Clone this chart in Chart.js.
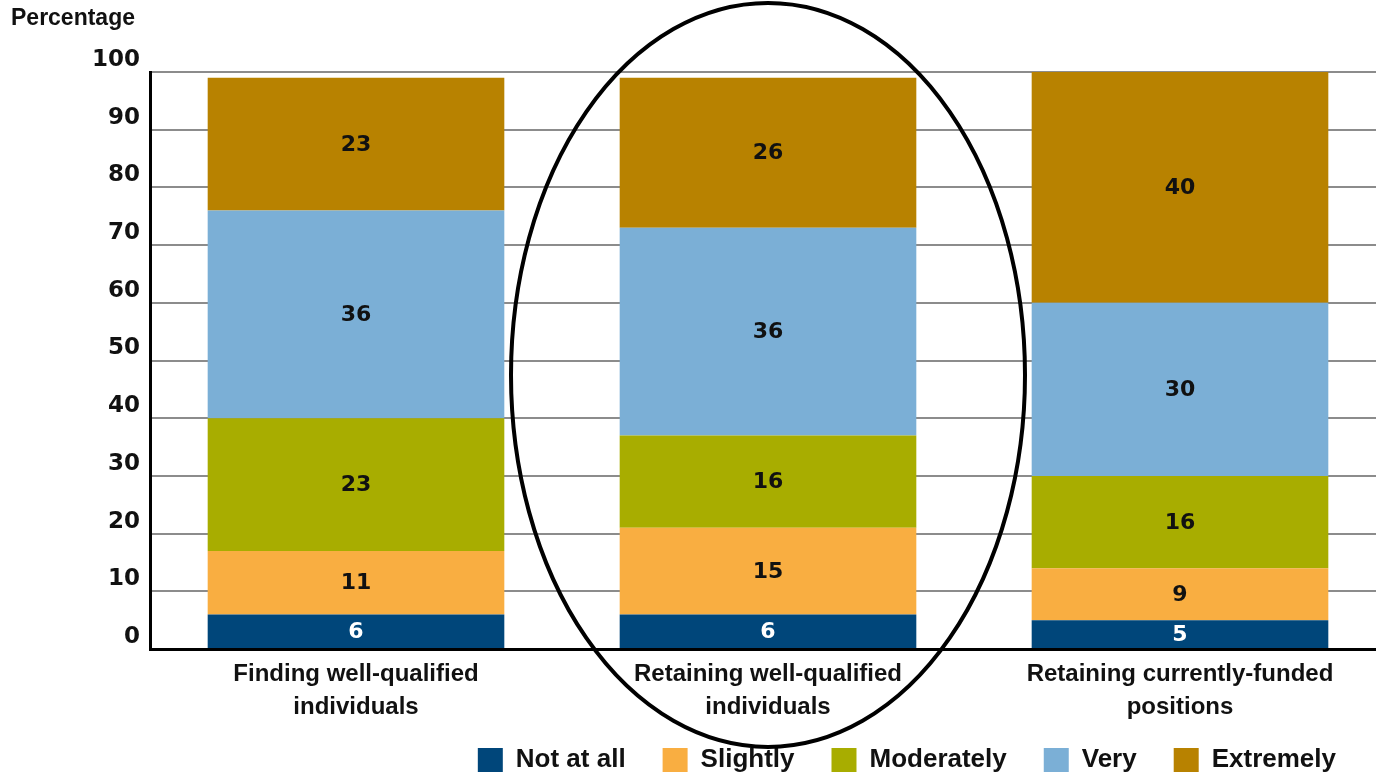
<!DOCTYPE html>
<html><head><meta charset="utf-8">
<script src="https://cdn.jsdelivr.net/npm/chart.js@4.4.1/dist/chart.umd.min.js"></script>
<style>
html,body{margin:0;padding:0;background:#fff;overflow:hidden;width:1376px;height:775px}
#wrap{position:absolute;left:0;top:0;width:1390px;height:775px}
</style>
</head><body><div id="wrap"><canvas id="c" width="1390" height="775"></canvas></div>
<script>
const categories = [["Finding well-qualified","individuals"],["Retaining well-qualified","individuals"],["Retaining currently-funded","positions"]];
const seriesNames = ["Not at all","Slightly","Moderately","Very","Extremely"];
const notAtAll   = [6, 6, 5];
const slightly   = [11, 15, 9];
const moderately = [23, 16, 16];
const very       = [36, 36, 30];
const extremely  = [23, 26, 40];
const yTickValues = [0,10,20,30,40,50,60,70,80,90,100];
const axisTitle = "Percentage";
const highlightedCategory = 1;

const seriesValues = [notAtAll, slightly, moderately, very, extremely];
const colors = ["#00467a", "#f9ae41", "#a8ad00", "#7bafd6", "#b88200"];
const labelColors = ["#ffffff", "#111111", "#111111", "#111111", "#111111"];

const labelPlugin = {
  id: 'segLabels',
  afterDatasetsDraw(chart) {
    const ctx = chart.ctx;
    ctx.save();
    ctx.font = "bold 22px 'DejaVu Sans'";
    ctx.textAlign = 'center';
    ctx.textBaseline = 'middle';
    chart.data.datasets.forEach((ds, di) => {
      const meta = chart.getDatasetMeta(di);
      meta.data.forEach((el, i) => {
        ctx.fillStyle = labelColors[di];
        ctx.fillText(String(ds.data[i]), el.x, (el.y + el.base) / 2 + 1);
      });
    });
    ctx.restore();
  }
};

const decoPlugin = {
  id: 'deco',
  afterLayout(chart) {
    const lg = chart.legend;
    if (lg) {
      const h = lg.height;
      lg.right = 1373; lg.left = 0;
      lg.top = 710; lg.bottom = 710 + h;
    }
  },
  afterDraw(chart) {
    const ctx = chart.ctx;
    ctx.save();
    ctx.font = "bold 23px 'Liberation Sans'";
    ctx.fillStyle = '#111';
    ctx.textAlign = 'left';
    ctx.textBaseline = 'middle';
    ctx.fillText(axisTitle, 11, 19);
    const xs = chart.scales.x, ys = chart.scales.y;
    const cx = xs.getPixelForValue(highlightedCategory);
    const cy = ys.getPixelForValue(47.5);
    ctx.beginPath();
    ctx.ellipse(cx, cy, 257, 372, 0, 0, Math.PI * 2);
    ctx.lineWidth = 4;
    ctx.strokeStyle = '#000';
    ctx.stroke();
    ctx.restore();
  }
};

new Chart(document.getElementById('c'), {
  type: 'bar',
  data: {
    labels: categories,
    datasets: seriesNames.map((n, i) => ({
      label: n,
      data: seriesValues[i],
      backgroundColor: colors[i],
      borderWidth: 0,
      barPercentage: 0.72,
      categoryPercentage: 1
    }))
  },
  options: {
    responsive: false,
    animation: false,
    devicePixelRatio: 1,
    layout: { padding: { top: 72, left: 0, right: 4, bottom: -27 } },
    plugins: {
      tooltip: { enabled: false },
      title: { display: false },
      legend: {
        position: 'bottom',
        align: 'end',
        labels: {
          boxWidth: 25,
          boxHeight: 24,
          padding: 37,
          color: '#111',
          font: { family: "'Liberation Sans'", size: 26, weight: 'bold' }
        }
      }
    },
    scales: {
      x: {
        stacked: true,
        grid: { display: false, drawTicks: false },
        border: { display: true, color: '#000', width: 3 },
        ticks: {
          color: '#111',
          padding: 9,
          maxRotation: 0,
          autoSkip: false,
          font: { family: "'Liberation Sans'", size: 24, weight: 'bold', lineHeight: 1.375 }
        },
        afterFit(s) { s.height = 80; }
      },
      y: {
        stacked: true,
        min: 0, max: 100,
        afterBuildTicks(s) { s.ticks = yTickValues.map(v => ({ value: v })); },
        grid: { color: '#8c8c8c', lineWidth: 2, drawTicks: false },
        border: { display: true, color: '#000', width: 3 },
        ticks: {
          color: '#111',
          padding: 10,
          labelOffset: -12,
          font: { family: "'DejaVu Sans'", size: 23, weight: 'bold' }
        },
        afterFit(s) { s.width = 150; }
      }
    }
  },
  plugins: [labelPlugin, decoPlugin]
});
</script>
</body></html>
